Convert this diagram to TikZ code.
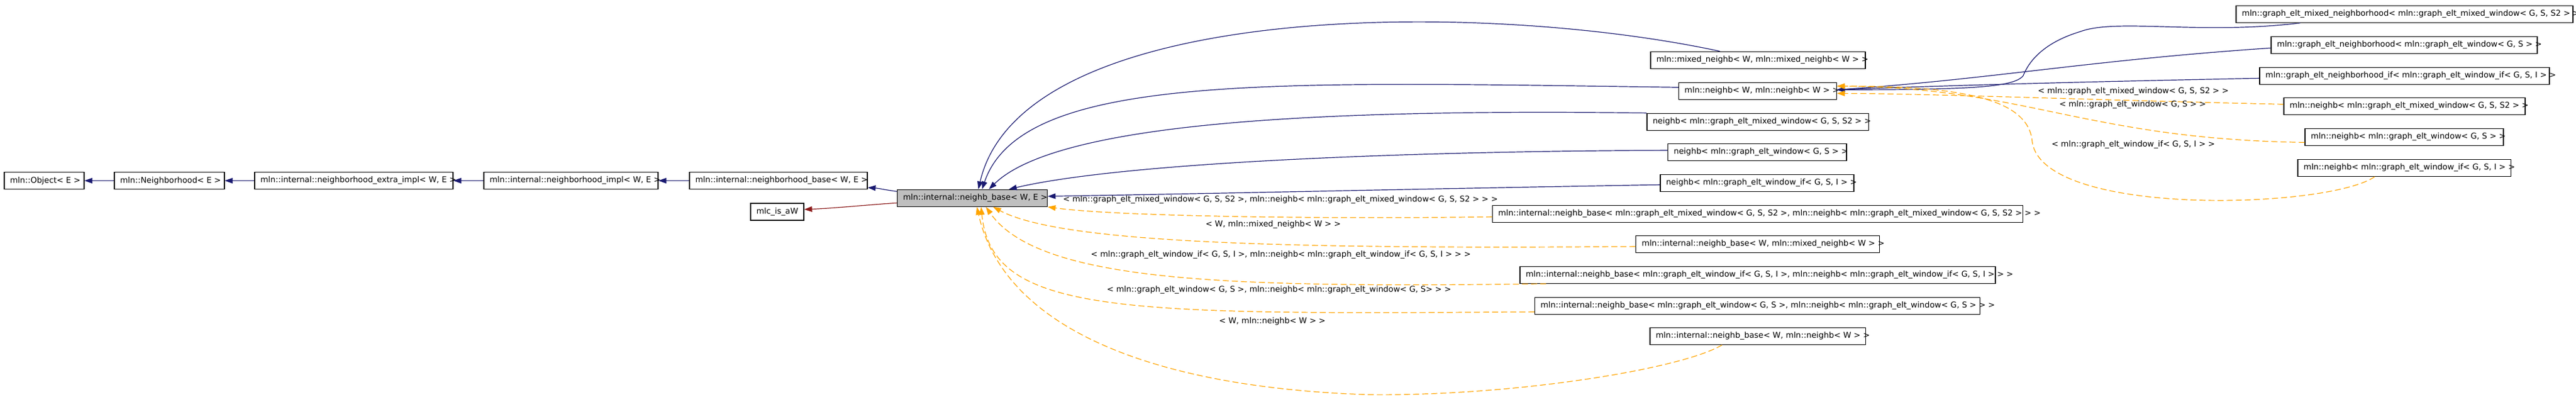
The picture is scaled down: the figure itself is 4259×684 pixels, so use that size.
\documentclass[tikz,border=0pt]{standalone}
\usepackage{fontspec}
\setmainfont{DejaVu Sans}
\usetikzlibrary{arrows.meta}
\definecolor{midblue}{HTML}{191970}
\definecolor{orng}{HTML}{FFA500}
\definecolor{fbrick}{HTML}{8B1A1A}
\definecolor{basegray}{HTML}{BFBFBF}
\newcommand\cls[7][]{%
  \node[clsbox,#1,minimum width={(#5)-(#3)},minimum height={(#6)-(#4)}] (#2)
    at ({((#3)+(#5))/2},{((#4)+(#6))/2})
    {\makebox[\dimexpr #5pt-#3pt-19pt\relax][l]{\vphantom{Ag}#7}};}
\begin{document}
\begin{tikzpicture}[x=1pt,y=-1pt,
  every node/.style={font=\fontsize{13.3pt}{16pt}\selectfont},
  clsbox/.style={draw=black,line width=1.2pt,inner sep=0pt,fill=white},
  lbl/.style={inner sep=0pt},
  tip/.style={-{Triangle[length=13pt,width=9pt]}},
  inh/.style={draw=midblue,line width=1.2pt,tip,fill=none},
  tmpl/.style={draw=orng,line width=1.2pt,dash pattern=on 10pt off 5pt,-{Triangle[length=13pt,width=9pt,fill=orng]}},
  usage/.style={draw=fbrick,line width=1.2pt,-{Triangle[length=13pt,width=9pt,fill=fbrick]}}]
\useasboundingbox[fill=white] (0,0) rectangle (4259,684);

% main row
\cls{obj}{7}{284.5}{139}{312.5}{mln::Object< E >}
\cls{nbh}{189}{284.5}{371}{312.5}{mln::Neighborhood< E >}
\cls{nei}{421}{284.5}{749}{312.5}{mln::internal::neighborhood\_extra\_impl< W, E >}
\cls{nim}{800}{284.5}{1088}{312.5}{mln::internal::neighborhood\_impl< W, E >}
\cls{nbb}{1140}{284.5}{1434}{312.5}{mln::internal::neighborhood\_base< W, E >}
\cls{mlc}{1241}{336}{1329}{364}{mlc\_is\_aW}
\cls[fill=basegray]{base}{1483.5}{313.3}{1731.6}{341.3}{mln::internal::neighb\_base< W, E >}

% middle column
\cls{mx}{2729}{85.3}{3084}{113.3}{mln::mixed\_neighb< W, mln::mixed\_neighb< W > >}
\cls{nb}{2775.6}{136.3}{3036.5}{164.3}{mln::neighb< W, mln::neighb< W > >}
\cls{n1}{2723}{187.3}{3089.4}{215.3}{neighb< mln::graph\_elt\_mixed\_window< G, S, S2 > >}
\cls{n2}{2757.8}{237.3}{3053}{265.3}{neighb< mln::graph\_elt\_window< G, S > >}
\cls{n3}{2745}{288.3}{3065}{316.3}{neighb< mln::graph\_elt\_window\_if< G, S, I > >}
\cls{b1}{2467.6}{339.3}{3344.5}{367.3}{mln::internal::neighb\_base< mln::graph\_elt\_mixed\_window< G, S, S2 >, mln::neighb< mln::graph\_elt\_mixed\_window< G, S, S2 > > >}
\cls{b2}{2704.8}{389.3}{3107.6}{417.3}{mln::internal::neighb\_base< W, mln::mixed\_neighb< W > >}
\cls{b3}{2513}{440.3}{3299}{468.3}{mln::internal::neighb\_base< mln::graph\_elt\_window\_if< G, S, I >, mln::neighb< mln::graph\_elt\_window\_if< G, S, I > > >}
\cls{b4}{2537.5}{491.3}{3273.6}{519.3}{mln::internal::neighb\_base< mln::graph\_elt\_window< G, S >, mln::neighb< mln::graph\_elt\_window< G, S > > >}
\cls{b5}{2728}{541.3}{3084.4}{569.3}{mln::internal::neighb\_base< W, mln::neighb< W > >}

% right column
\cls{g1}{3697}{9.3}{4254}{37.3}{mln::graph\_elt\_mixed\_neighborhood< mln::graph\_elt\_mixed\_window< G, S, S2 > >}
\cls{g2}{3755}{60.3}{4195}{88.3}{mln::graph\_elt\_neighborhood< mln::graph\_elt\_window< G, S > >}
\cls{g3}{3736}{111.3}{4215}{139.3}{mln::graph\_elt\_neighborhood\_if< mln::graph\_elt\_window\_if< G, S, I > >}
\cls{m1}{3776}{161.3}{4175}{189.3}{mln::neighb< mln::graph\_elt\_mixed\_window< G, S, S2 > >}
\cls{m2}{3811}{212.3}{4139}{240.3}{mln::neighb< mln::graph\_elt\_window< G, S > >}
\cls{m3}{3799}{263.3}{4151.5}{291.3}{mln::neighb< mln::graph\_elt\_window\_if< G, S, I > >}

% main row inheritance
\draw[inh] (nbh.west) -- (obj.east);
\draw[inh] (nei.west) -- (nbh.east);
\draw[inh] (nim.west) -- (nei.east);
\draw[inh] (nbb.west) -- (nim.east);
\draw[inh] ([yshift=11pt]base.west) .. controls (1465,314) and (1452,311) .. ([yshift=-11.5pt]nbb.east);
\draw[usage] ([yshift=-8pt]base.west) .. controls (1440,338) and (1380,344) .. ([yshift=4pt]mlc.east);

% blue edges into neighb_base
\draw[inh] ([xshift=-63pt]mx.north) .. controls (2450,0) and (1690,0) .. ([xshift=10pt]base.north);
\draw[inh] ([yshift=6pt]nb.west) .. controls (2100,135) and (1690,120) .. ([xshift=16pt]base.north);
\draw[inh] (n1.north west) .. controls (2200,180) and (1750,200) .. ([xshift=27.5pt]base.north);
\draw[inh] ([yshift=3pt]n2.west) .. controls (2300,250) and (1850,270) .. ([xshift=60.5pt]base.north);
\draw[inh] ([yshift=-3pt]n3.west) .. controls (2400,311) and (2000,320) .. ([yshift=3pt]base.east);

% blue edges into mln::neighb< W, mln::neighb< W > >
\draw[inh] ([xshift=-172.5pt]g1.south) .. controls (3640,58) and (3500,30) .. (3440,52)
  .. controls (3380,70) and (3355,100) .. (3345,125)
  .. controls (3330,145) and (3250,148) .. ([yshift=2pt]nb.east);
\draw[inh] ([yshift=-5pt]g2.west) .. controls (3450,100) and (3300,130) .. ([yshift=2pt]nb.east);
\draw[inh] ([yshift=-4pt]g3.west) .. controls (3400,136) and (3200,142) .. ([yshift=2pt]nb.east);

% template instances (right)
\draw[tmpl] ([yshift=3pt]m1.west) .. controls (3450,165) and (3200,155) .. ([yshift=-4pt]nb.east);
\draw[tmpl] ([yshift=-9pt]m2.west) .. controls (3450,230) and (3350,145) .. ([yshift=8pt]nb.east);
\draw[tmpl] ([xshift=-49pt]m3.south) .. controls (3850,345) and (3380,360) .. (3360,235)
  .. controls (3355,165) and (3250,142) .. ([yshift=8pt]nb.east);
\node[lbl] (l6) at (3527,151) {< mln::graph\_elt\_mixed\_window< G, S, S2 > >};
\node[lbl] (l7) at (3526,173) {< mln::graph\_elt\_window< G, S > >};
\node[lbl] (l8) at (3527,239) {< mln::graph\_elt\_window\_if< G, S, I > >};

% template instances (into neighb_base)
\draw[tmpl] ([yshift=-5pt]b1.west) .. controls (2200,362) and (1850,358) .. (base.south east);
\draw[tmpl] ([yshift=-4pt]b2.west) .. controls (2100,412) and (1750,400) .. ([xshift=34.5pt]base.south);
\draw[tmpl] ([xshift=44pt]b3.south west) .. controls (2050,475) and (1720,470) .. ([xshift=22.5pt]base.south);
\draw[tmpl] ([yshift=-10pt]b4.west) .. controls (1850,520) and (1640,520) .. ([xshift=14.5pt]base.south);
\draw[tmpl] ([xshift=-59pt]b5.south) .. controls (2780,610) and (2500,655) .. (2261,652)
  .. controls (1900,640) and (1660,540) .. ([xshift=7.5pt]base.south);
\node[lbl] (l1) at (2117,330) {< mln::graph\_elt\_mixed\_window< G, S, S2 >, mln::neighb< mln::graph\_elt\_mixed\_window< G, S, S2 > > >};
\node[lbl] (l2) at (2105,371) {< W, mln::mixed\_neighb< W > >};
\node[lbl] (l3) at (2117.6,421) {< mln::graph\_elt\_window\_if< G, S, I >, mln::neighb< mln::graph\_elt\_window\_if< G, S, I > > >};
\node[lbl] (l4) at (2114.6,479) {< mln::graph\_elt\_window< G, S >, mln::neighb< mln::graph\_elt\_window< G, S> > >};
\node[lbl] (l5) at (2103.6,531) {< W, mln::neighb< W > >};
\end{tikzpicture}
\end{document}
